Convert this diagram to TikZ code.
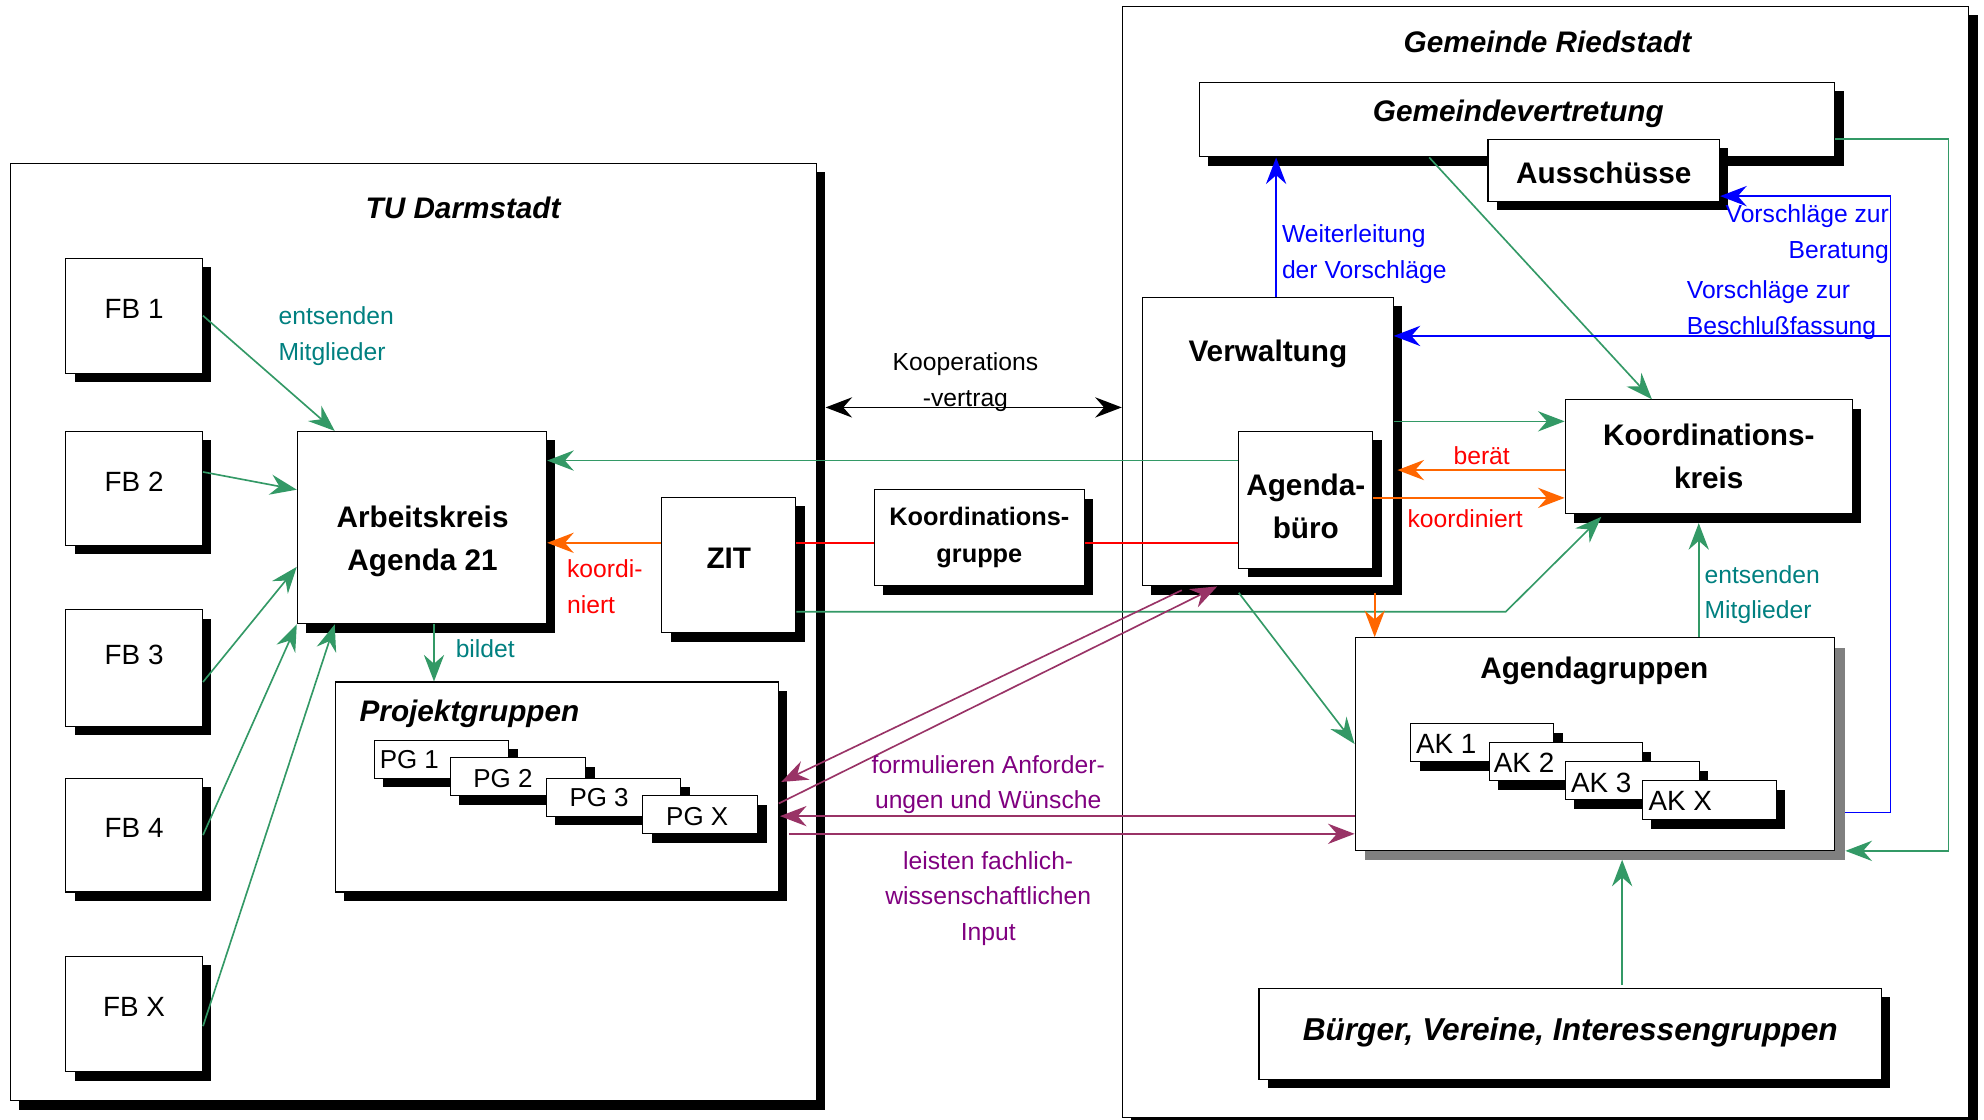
\documentclass[tikz,border=0pt]{standalone}
\usepackage{fontspec}
\setmainfont{Liberation Sans}
\usetikzlibrary{arrows.meta,calc,shadows}
\definecolor{cgreen}{RGB}{51,153,102}
\definecolor{cteal}{RGB}{0,128,128}
\definecolor{corange}{RGB}{255,102,0}
\definecolor{cred}{RGB}{255,0,0}
\definecolor{cblue}{RGB}{0,0,255}
\definecolor{cplum}{RGB}{153,51,102}
\definecolor{cpurple}{RGB}{128,0,128}
\tikzset{
  box/.style={draw=black, line width=0.9pt, fill=white, inner sep=0pt,
    drop shadow={shadow xshift=7pt,shadow yshift=-7pt,opacity=1,fill=black}},
  gbox/.style={draw=black, line width=0.9pt, fill=white, inner sep=0pt,
    drop shadow={shadow xshift=8pt,shadow yshift=-8pt,opacity=1,fill=black!50}},
  txt/.style={inner sep=0pt, font=\fontsize{22}{34}\selectfont},
  pgtxt/.style={inner sep=0pt, font=\fontsize{20.5}{30}\selectfont},
  btxt/.style={inner sep=0pt, align=center, font=\fontsize{23.5}{34}\selectfont\bfseries},
  bitxt/.style={inner sep=0pt, align=center, font=\fontsize{23.5}{34}\selectfont\bfseries\itshape},
  lab/.style={inner sep=0pt, font=\fontsize{19.5}{28}\selectfont},
  con/.style={line width=1.3pt},
  tip/.style={-{Stealth[length=21pt,width=16pt,inset=7pt]}},
  gcon/.style={con,tip,draw=cgreen},
  ocon/.style={con,tip,draw=corange},
  bcon/.style={con,tip,draw=cblue},
  pcon/.style={con,tip,draw=cplum},
  rcon/.style={con,draw=cred},
}
\begin{document}
\begin{tikzpicture}[x=1pt,y=-1pt]
\useasboundingbox (0,0) rectangle (1568,885);
\fill[white] (0,0) rectangle (1568,885);

% ---------- containers ----------
\node[box, minimum width=637, minimum height=741] (tu) at (326.5,499.5) {};
\node[box, minimum width=669, minimum height=878] (gem) at (1221.5,444) {};
\node[bitxt] (tutitle) at (366,164) {TU Darmstadt};
\node[bitxt] (gemtitle) at (1223,33) {Gemeinde Riedstadt};

% ---------- TU Darmstadt ----------
\node[box, minimum width=108, minimum height=91] (fb1) at (106,249.5) {};
\node[txt] (fb1t) at (106,244.5) {FB 1};
\node[box, minimum width=108, minimum height=90] (fb2) at (106,386) {};
\node[txt] (fb2t) at (106,380.5) {FB 2};
\node[box, minimum width=108, minimum height=92] (fb3) at (106,528) {};
\node[txt] (fb3t) at (106,517.5) {FB 3};
\node[box, minimum width=108, minimum height=90] (fb4) at (106,660) {};
\node[txt] (fb4t) at (106,654) {FB 4};
\node[box, minimum width=108, minimum height=91] (fbx) at (106,801.5) {};
\node[txt] (fbxt) at (106,796) {FB X};
\node[box, minimum width=197, minimum height=152] (ak) at (333.5,417) {};
\node[btxt] (akt) at (334,428) {Arbeitskreis\\Agenda 21};
\node[box, minimum width=106, minimum height=107] (zit) at (576,446.5) {};
\node[btxt] (zitt) at (576,441) {ZIT};
\node[box, minimum width=350, minimum height=166] (pg) at (440,622) {};
\node[bitxt, anchor=west] (pgtitle) at (284,564) {Projektgruppen};
\node[box, minimum width=106, minimum height=30] (pg1) at (349,600) {};
\node[pgtxt] (pg1t) at (323.5,600) {PG 1};
\node[box, minimum width=107, minimum height=30] (pg2) at (409.5,614) {};
\node[pgtxt] (pg2t) at (397.5,615) {PG 2};
\node[box, minimum width=106, minimum height=30] (pg3) at (485,630) {};
\node[pgtxt] (pg3t) at (473.5,630) {PG 3};
\node[box, minimum width=91, minimum height=30] (pgx) at (553.5,644) {};
\node[pgtxt] (pgxt) at (551,645) {PG X};

% ---------- middle ----------
\node[box, font=\fontsize{20}{29}\selectfont\bfseries, align=center, minimum width=166, minimum height=76] (kgr) at (774,425) {Koordinations-\\gruppe};

% ---------- Gemeinde Riedstadt ----------
\node[box, minimum width=502, minimum height=59] (gv) at (1199,94.5) {};
\node[bitxt] (gvt) at (1200,90) {Gemeindevertretung};
\node[box, minimum width=183, minimum height=49] (aus) at (1267.5,134.5) {};
\node[btxt] (aust) at (1267.5,137) {Ausschüsse};
\node[box, minimum width=198, minimum height=228] (verw) at (1002,349) {};
\node[btxt] (verwt) at (1002,280) {Verwaltung};
\node[box, minimum width=106, minimum height=108] (abuero) at (1032,395) {};
\node[btxt] (abt) at (1032,400.5) {Agenda-\\büro};
\node[box,btxt, minimum width=227, minimum height=90] (kk) at (1350.5,361) {Koordinations-\\kreis};
\node[gbox, minimum width=379, minimum height=168] (ag) at (1260.5,588) {};
\node[btxt] (agt) at (1260,530) {Agendagruppen};
\node[box, minimum width=113, minimum height=30] (ak1) at (1171.5,587) {};
\node[txt] (ak1t) at (1143,588) {AK 1};
\node[box, minimum width=121, minimum height=30] (ak2) at (1237.5,602) {};
\node[txt] (ak2t) at (1204.5,603) {AK 2};
\node[box, minimum width=106, minimum height=30] (ak3) at (1290,617) {};
\node[txt] (ak3t) at (1265.5,619) {AK 3};
\node[box, minimum width=106, minimum height=31] (akx) at (1351,632.5) {};
\node[txt] (akxt) at (1328,633) {AK X};
\node[box, minimum width=492, minimum height=72] (bg) at (1241,817) {};
\node[inner sep=0pt, font=\fontsize{25}{30}\selectfont\bfseries\itshape] (bgt) at (1241,816) {Bürger, Vereine, Interessengruppen};

% ---------- green connectors ----------
\draw[gcon] (fb1.east) -- ($(ak.north west)+(30,0)$);
\draw[gcon] ($(fb2.east)+(0,-13)$) -- ($(ak.west)+(0,-30)$);
\draw[gcon] ($(fb3.east)+(0,11)$) -- ($(ak.west)+(0,31)$);
\draw[gcon] (fb4.east) -- (ak.south west);
\draw[gcon] ($(fbx.east)+(0,9.5)$) -- ($(ak.south west)+(30,0)$);
\coordinate (bil) at ($(ak.south)+(9.5,0)$);
\draw[gcon] (bil) -- (bil |- pg.north);
\coordinate (abw) at ($(abuero.west)+(0,-31)$);
\draw[gcon] (abw) -- (ak.east |- abw);
\coordinate (zk) at ($(zit.east)+(0,37)$);
\coordinate (zkb) at (1190,483.5);
\draw[gcon] (zk) -- (zkb) -- ($(kk.south west)+(29,2)$);
\draw[gcon] ($(gv.south west)+(182,0)$) -- ($(kk.north west)+(69,0)$);
\coordinate (gvr) at ($(gv.east)+(0,15.5)$);
\coordinate (gx) at (1540,110);
\draw[gcon] (gvr) -- (gvr -| gx) -- (gx |- ag.south east) -- ($(ag.south east)+(8,0)$);
\coordinate (vk) at ($(verw.east)+(0,-16)$);
\draw[gcon] (vk) -- (kk.west |- vk);
\draw[gcon] ($(verw.south)+(-23,5)$) -- (ag.west);
\coordinate (agk) at ($(ag.north west)+(272,0)$);
\draw[gcon] (agk) -- (agk |- {$(kk.south)+(0,7)$});
\coordinate (bga) at ($(bg.north)+(41,-2)$);
\draw[gcon] (bga) -- (bga |- {$(ag.south)+(0,7)$});

% ---------- orange connectors ----------
\coordinate (za) at ($(zit.west)+(0,-17.5)$);
\draw[ocon] (za) -- (ak.east |- za);
\coordinate (ob) at ($(kk.west)+(0,10.5)$);
\draw[ocon] (ob) -- ($(verw.east |- ob)+(3,0)$);
\coordinate (ok) at ($(abuero.east)+(0,-1.5)$);
\draw[ocon] (ok) -- (kk.west |- ok);
\coordinate (ova) at ($(verw.south east)+(-15,5)$);
\draw[ocon] (ova) -- (ova |- ag.north);

% ---------- red connectors ----------
\coordinate (zr) at ($(zit.east)+(0,-17.5)$);
\draw[rcon] (zr) -- (kgr.west |- zr);
\draw[rcon] (kgr.east |- zr) -- (abuero.west |- zr);

% ---------- blue connectors ----------
\coordinate (vg) at ($(verw.north west)+(106,0)$);
\draw[bcon] (vg) -- (vg |- gv.south);
\coordinate (ab) at ($(ag.east)+(8,54)$);
\coordinate (bx) at (1494,642);
\coordinate (ba) at (1494,155);
\draw[bcon] (ab) -- (bx) -- (ba) -- (aus.east |- ba);
\coordinate (bv) at (1494,265.5);
\draw[bcon] (bv) -- (verw.east |- bv);

% ---------- black double arrow ----------
\coordinate (kv) at (700,322);
\draw[con,{Stealth[length=21pt,width=16pt,inset=7pt]}-{Stealth[length=21pt,width=16pt,inset=7pt]}] ($(tu.east |- kv)+(7,0)$) -- (gem.west |- kv);

% ---------- purple connectors ----------
\draw[pcon] ($(verw.south)+(-68,3)$) -- ($(pg.east)+(2,-4)$);
\draw[pcon] ($(pg.east)+(0,13)$) -- ($(verw.south)+(-40,0)$);
\coordinate (pc) at ($(ag.west)+(0,57)$);
\draw[pcon] (pc) -- ($(pg.east |- pc)+(1,0)$);
\coordinate (pd) at ($(pg.east)+(8,37)$);
\draw[pcon] (pd) -- (ag.west |- pd);

% ---------- labels ----------
\node[lab, text=cteal, align=left, anchor=west] (l1) at (220,265.5) {entsenden\\Mitglieder};
\node[lab, text=cteal] (l2) at (383.5,513) {bildet};
\node[lab, text=cred, align=left, anchor=west] (l3) at (448,463.5) {koordi-\\niert};
\node[lab, align=center] (l4) at (763,302) {Kooperations\\-vertrag};
\node[lab, text=cblue, align=left, anchor=west] (l5) at (1013,201) {Weiterleitung\\der Vorschläge};
\node[lab, text=cblue, align=right, anchor=east] (l6) at (1493,185) {Vorschläge zur\\Beratung};
\node[lab, text=cblue, align=left, anchor=west] (l7) at (1333,245) {Vorschläge zur\\Beschlußfassung};
\node[lab, text=cred] (l8) at (1171,360) {berät};
\node[lab, text=cred] (l9) at (1158,410) {koordiniert};
\node[lab, text=cteal, align=left, anchor=west] (l10) at (1347,470) {entsenden\\Mitglieder};
\node[lab, text=cpurple, align=center] (l11) at (781,620) {formulieren Anforder-\\ungen und Wünsche};
\node[lab, text=cpurple, align=center] (l12) at (781,710) {leisten fachlich-\\wissenschaftlichen\\Input};
\end{tikzpicture}
\end{document}
